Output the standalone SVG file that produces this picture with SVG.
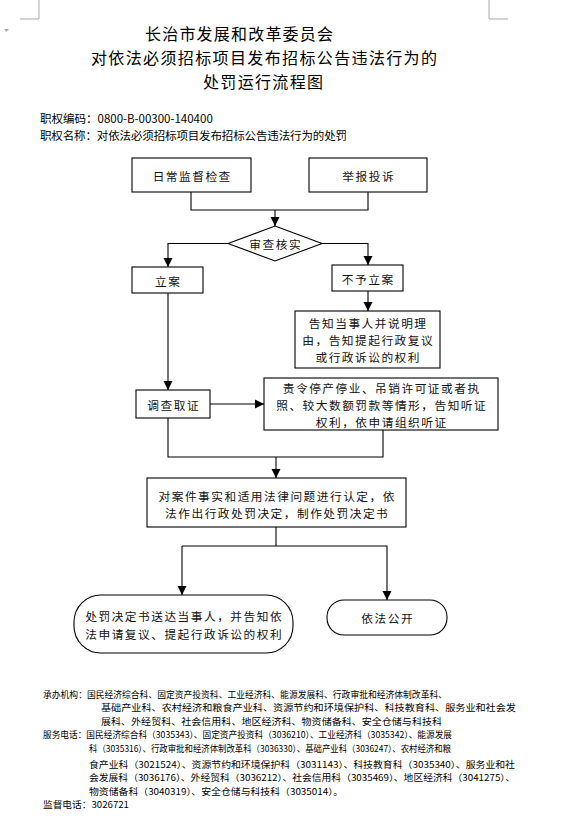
<svg xmlns="http://www.w3.org/2000/svg" width="579" height="833" viewBox="0 0 579 833">
<defs>
<marker id="ah" markerWidth="10" markerHeight="10" refX="9" refY="5" orient="auto" markerUnits="userSpaceOnUse">
<path d="M0,0.5 L9,5 L0,9.5 Z" fill="#000"/>
</marker>
</defs>
<style>
.box{fill:#fff;stroke:#000;stroke-width:1.1}
.ln{fill:none;stroke:#000;stroke-width:1.1}
.arr{fill:none;stroke:#000;stroke-width:1.1;marker-end:url(#ah)}
.t{font-family:"Noto Sans CJK SC","Liberation Sans",sans-serif;font-size:11.7px;letter-spacing:1.5px;fill:#111;text-anchor:middle;dominant-baseline:central}
.ti{font-family:"Noto Sans CJK SC","Liberation Serif",serif;font-size:16px;fill:#000;dominant-baseline:central}
.h{font-family:"Noto Sans CJK SC","Liberation Sans",sans-serif;font-size:11.5px;fill:#000;dominant-baseline:central}
.f{font-family:"Noto Sans CJK SC","Liberation Sans",sans-serif;font-size:9px;fill:#000;dominant-baseline:central}
.mk{fill:none;stroke:#aaa;stroke-width:1}
</style>
<rect width="579" height="833" fill="#fff"/>
<g id="page-marks">
<path class="mk" d="M39,0 V19 H20"/>
<path class="mk" d="M489,0 V19 H508"/>
<path d="M4,29 L9,29 L6.5,32 Z" fill="#aaa"/>
</g>
<g id="title">
<text class="ti" x="145" y="33" textLength="188" lengthAdjust="spacing">长治市发展和改革委员会</text>
<text class="ti" x="91" y="57" textLength="346" lengthAdjust="spacing">对依法必须招标项目发布招标公告违法行为的</text>
<text class="ti" x="203" y="81" textLength="120" lengthAdjust="spacing">处罚运行流程图</text>
</g>
<g id="header">
<text class="h" x="40" y="118">职权编码：0800-B-00300-140400</text>
<text class="h" x="40" y="135" textLength="307" lengthAdjust="spacing">职权名称：对依法必须招标项目发布招标公告违法行为的处罚</text>
</g>
<g id="connectors">
<path class="ln" d="M191,192 V210 H368 V192"/>
<path class="arr" d="M275,210 V226"/>
<path class="arr" d="M228,243.5 H168 V267"/>
<path class="arr" d="M322,243.5 H368 V265"/>
<path class="arr" d="M368,291 V311"/>
<path class="arr" d="M168,293 V390"/>
<path class="arr" d="M210,404 H264"/>
<path class="ln" d="M168,418 V457 H383 V430"/>
<path class="arr" d="M276,457 V478"/>
<path class="ln" d="M276,527 V546"/>
<path class="arr" d="M182,546 H387 V600"/>
<path class="arr" d="M182,546 V595"/>
</g>
<g id="n-daily">
<rect class="box" x="132" y="158" width="119" height="34"/>
<text class="t" x="192.2" y="175">日常监督检查</text>
</g>
<g id="n-report">
<rect class="box" x="309" y="158" width="118" height="34"/>
<text class="t" x="368.7" y="175">举报投诉</text>
</g>
<g id="n-review">
<path class="box" d="M275,226 L322,243.5 L275,261 L228,243.5 Z"/>
<text class="t" x="275.7" y="243.5">审查核实</text>
</g>
<g id="n-file">
<rect class="box" x="132" y="267" width="71" height="26"/>
<text class="t" x="168.2" y="280">立案</text>
</g>
<g id="n-nofile">
<rect class="box" x="332" y="265" width="71" height="26"/>
<text class="t" x="368.2" y="278">不予立案</text>
</g>
<g id="n-notify">
<rect class="box" x="295" y="311" width="145" height="57"/>
<text class="t" x="368.2" y="322">告知当事人并说明理</text>
<text class="t" x="368.2" y="339">由，告知提起行政复议</text>
<text class="t" x="368.2" y="356">或行政诉讼的权利</text>
</g>
<g id="n-investigate">
<rect class="box" x="136" y="390" width="74" height="28"/>
<text class="t" x="173.7" y="404">调查取证</text>
</g>
<g id="n-hearing">
<rect class="box" x="264" y="378" width="234" height="52"/>
<text class="t" x="381.7" y="387">责令停产停业、吊销许可证或者执</text>
<text class="t" x="381.7" y="404">照、较大数额罚款等情形，告知听证</text>
<text class="t" x="381.7" y="421">权利，依申请组织听证</text>
</g>
<g id="n-decide">
<rect class="box" x="147" y="478" width="259" height="49"/>
<text class="t" x="277.2" y="495">对案件事实和适用法律问题进行认定，依</text>
<text class="t" x="277.2" y="512">法作出行政处罚决定，制作处罚决定书</text>
</g>
<g id="n-deliver">
<rect class="box" x="74" y="595" width="219" height="58" rx="27" ry="27"/>
<text class="t" x="184.2" y="615">处罚决定书送达当事人，并告知依</text>
<text class="t" x="184.2" y="633">法申请复议、提起行政诉讼的权利</text>
</g>
<g id="n-public">
<rect class="box" x="327" y="600" width="120" height="35" rx="17" ry="17"/>
<text class="t" x="387.7" y="617">依法公开</text>
</g>
<g id="footer">
<text class="f" x="43" y="694" textLength="404" lengthAdjust="spacingAndGlyphs">承办机构：国民经济综合科、固定资产投资科、工业经济科、能源发展科、行政审批和经济体制改革科、</text>
<text class="f" x="101" y="707" textLength="415" lengthAdjust="spacingAndGlyphs">基础产业科、农村经济和粮食产业科、资源节约和环境保护科、科技教育科、服务业和社会发</text>
<text class="f" x="101" y="721" textLength="341" lengthAdjust="spacingAndGlyphs">展科、外经贸科、社会信用科、地区经济科、物资储备科、安全仓储与科技科</text>
<text class="f" x="43" y="734" textLength="409" lengthAdjust="spacingAndGlyphs">服务电话：国民经济综合科（3035343）、固定资产投资科（3036210）、工业经济科（3035342）、能源发展</text>
<text class="f" x="89" y="748" textLength="362" lengthAdjust="spacingAndGlyphs">科（3035316）、行政审批和经济体制改革科（3036330）、基础产业科（3036247）、农村经济和粮</text>
<text class="f" x="89" y="764" textLength="426" lengthAdjust="spacingAndGlyphs">食产业科（3021524）、资源节约和环境保护科（3031143）、科技教育科（3035340）、服务业和社</text>
<text class="f" x="89" y="777" textLength="426" lengthAdjust="spacingAndGlyphs">会发展科（3036176）、外经贸科（3036212）、社会信用科（3035469）、地区经济科（3041275）、</text>
<text class="f" x="89" y="791" textLength="254" lengthAdjust="spacingAndGlyphs">物资储备科（3040319）、安全仓储与科技科（3035014）。</text>
<text class="f" x="43" y="804" textLength="86" lengthAdjust="spacingAndGlyphs">监督电话：3026721</text>
</g>
</svg>
